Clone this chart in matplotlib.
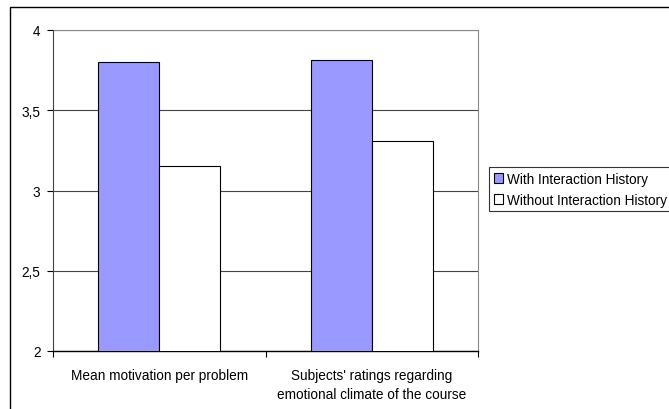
import matplotlib.pyplot as plt
import numpy as np
import matplotlib as mpl
from matplotlib.patches import Rectangle

mpl.rcParams['font.family'] = ['Liberation Sans', 'DejaVu Sans']

categories = ['Mean motivation per problem',
              "Subjects' ratings regarding\nemotional climate of the course"]
with_hist = [3.80, 3.81]
without_hist = [3.15, 3.31]
series_names = ['With Interaction History', 'Without Interaction History']
yticks = [2, 2.5, 3, 3.5, 4]
ytick_labels = ['2', '2,5', '3', '3,5', '4']

fig = plt.figure(figsize=(6.69, 4.10), dpi=100)
# outer chart frame (right and bottom edges fall outside the image)
fig.patches.append(Rectangle((10/669, -0.2), 1.5, 1 - 8/410 + 0.2,
                             transform=fig.transFigure, fill=False,
                             edgecolor='black', linewidth=1.0))

ax = fig.add_axes([53/669, 1 - 352/410, 425/669, 321/410])
x = np.arange(len(categories))
w = 0.287
ax.bar(x - w/2, with_hist, w, color='#9999ff', edgecolor='black',
       linewidth=0.8, zorder=3, label=series_names[0])
ax.bar(x + w/2, without_hist, w, color='white', edgecolor='black',
       linewidth=0.8, zorder=3, label=series_names[1])

ax.set_ylim(2, 4)
ax.set_xlim(-0.5, 1.5)
ax.set_yticks(yticks)
ax.set_yticklabels(ytick_labels)
ax.yaxis.grid(True, color='#444444', linewidth=0.8, zorder=0)
ax.set_xticks([-0.5, 0.5, 1.5])
ax.set_xticklabels([])
ax.set_xticks(x, minor=True)
ax.set_xticklabels(categories, minor=True, linespacing=1.45)
ax.tick_params(axis='x', which='minor', length=0, pad=12, labelsize=9.8)
ax.tick_params(axis='x', which='major', length=4, direction='out')
ax.tick_params(axis='y', length=4, direction='out', labelsize=9.8, pad=5)
for s in ['top', 'right']:
    ax.spines[s].set_visible(False)
ax.spines['left'].set_color('#444444')
ax.spines['bottom'].set_color('black')
ax.spines['bottom'].set_linewidth(1.0)
ax.plot([1, 1], [0, 1], transform=ax.transAxes, color='#888888',
        linewidth=0.8, clip_on=False)
ax.plot([0, 1], [1, 1], transform=ax.transAxes, color='#888888',
        linewidth=0.8, clip_on=False)

leg = fig.legend(loc='upper left', bbox_to_anchor=(489/669, 1 - 168/410),
                 frameon=True, fancybox=False, fontsize=9.8, handlelength=0.7,
                 handleheight=0.7, handletextpad=0.25, borderpad=0.35,
                 labelspacing=0.5, borderaxespad=0)
leg.get_frame().set_edgecolor('black')
leg.get_frame().set_linewidth(0.8)

fig.savefig('out.png', dpi=100)
